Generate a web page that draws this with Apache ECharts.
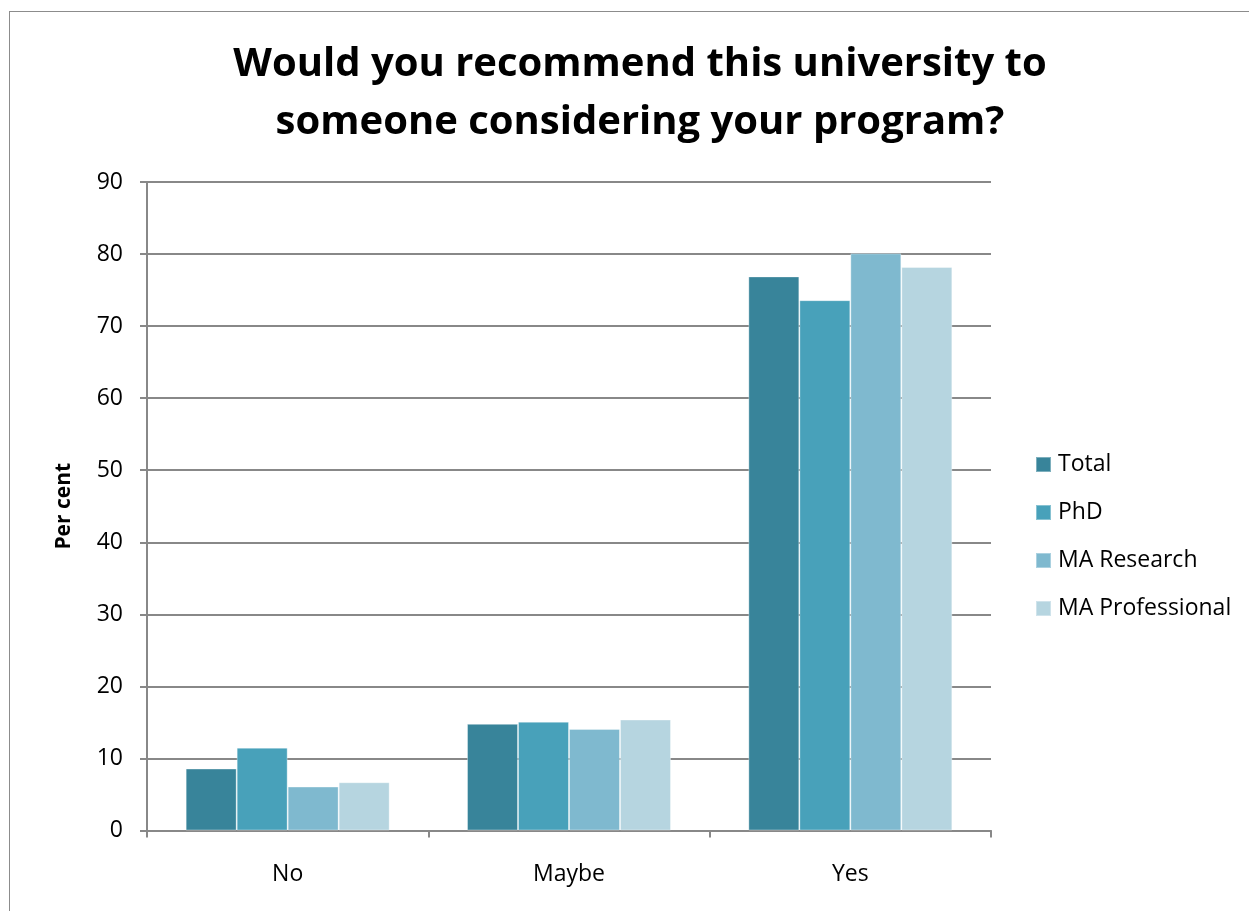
<!DOCTYPE html>
<html><head><meta charset="utf-8">
<script src="https://cdn.jsdelivr.net/npm/echarts@6/dist/echarts.min.js"></script>
<style>html,body{margin:0;padding:0;background:#fff}#c{width:1249px;height:911px}
#frame{position:absolute;left:9px;top:11px;width:1300px;height:1000px;border:1.5px solid #8c8c8c;pointer-events:none}</style>
</head><body><div id="c"></div><div id="frame"></div>
<script>
const categories = ['No', 'Maybe', 'Yes'];
const seriesNames = ['Total', 'PhD', 'MA Research', 'MA Professional'];
const total = [8.6, 14.8, 76.9];
const phd = [11.5, 15.1, 73.6];
const maResearch = [6.1, 14.1, 80.1];
const maProfessional = [6.7, 15.4, 78.2];
const colors = ['#38849a', '#48a1ba', '#7fb9cf', '#b6d5e0'];
const values = [total, phd, maResearch, maProfessional];
const font = 'Open Sans';
const chart = echarts.init(document.getElementById('c'));
chart.setOption({
  animation: false,
  title: {
    text: 'Would you recommend this university to\nsomeone considering your program?',
    left: 635, top: 31, textAlign: 'center',
    textStyle: {fontFamily: font, fontWeight: 'bold', fontSize: 40, lineHeight: 58, color: '#000'}
  },
  legend: {
    orient: 'vertical', left: 1030, top: 448, itemGap: 25, itemWidth: 15, itemHeight: 15,
    icon: 'rect',
    textStyle: {fontFamily: font, fontSize: 23, color: '#000', padding: [0,0,0,2]},
    data: seriesNames
  },
  grid: {left: 147, right: 258, top: 182, bottom: 80.5},
  xAxis: {
    type: 'category', data: categories,
    axisLine: {lineStyle: {color: '#888', width: 2}},
    axisTick: {show: true, length: 7, lineStyle: {color: '#888', width: 2}},
    axisLabel: {fontFamily: font, fontSize: 23, color: '#000', margin: 32}
  },
  yAxis: {
    type: 'value', min: 0, max: 90, interval: 10,
    name: 'Per cent', nameLocation: 'middle', nameGap: 72,
    nameTextStyle: {fontFamily: font, fontWeight: 'bold', fontSize: 21, color: '#000'},
    axisLine: {show: true, lineStyle: {color: '#888', width: 2}},
    axisTick: {show: true, length: 7, lineStyle: {color: '#888', width: 2}},
    axisLabel: {fontFamily: font, fontSize: 23, color: '#000', margin: 24},
    splitLine: {lineStyle: {color: '#888', width: 2}}
  },
  series: seriesNames.map((n, i) => ({
    name: n, type: 'bar', data: values[i], barGap: '0%', barCategoryGap: '27.5%',
    itemStyle: {color: colors[i], borderColor: 'rgba(255,255,255,0.35)', borderWidth: 1}
  }))
});
</script></body></html>
